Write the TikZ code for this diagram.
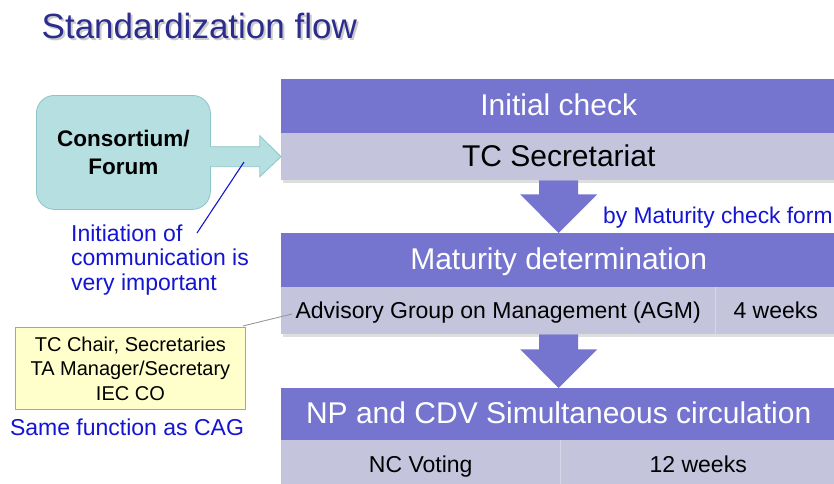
\documentclass[tikz,border=0pt]{standalone}
\usepackage{fontspec}
\setmainfont{Liberation Sans}
\usetikzlibrary{calc}
\definecolor{hdrfill}{RGB}{117,117,207}
\definecolor{rowfill}{RGB}{196,196,221}
\definecolor{tealfill}{RGB}{181,223,224}
\definecolor{tealline}{RGB}{140,198,200}
\definecolor{notefill}{RGB}{255,255,204}
\definecolor{noteline}{RGB}{165,165,165}
\definecolor{titleblue}{RGB}{44,44,140}
\definecolor{remarkblue}{RGB}{20,20,210}
\definecolor{divline}{RGB}{214,214,232}
\begin{document}
\begin{tikzpicture}[x=1pt,y=-1pt,
  hdr/.style={fill=hdrfill,text=white,inner sep=0pt,anchor=north west,
    minimum width=555pt,minimum height=54pt,text height=21.6pt,text depth=4pt,
    font=\fontsize{30}{36}\selectfont},
  cell/.style={fill=rowfill,text=black,inner sep=0pt,anchor=north west,
    minimum height=47pt,text height=16.5pt,text depth=0pt,
    font=\fontsize{23}{28}\selectfont},
  flow/.style={fill=hdrfill},
  remark/.style={text=remarkblue,inner sep=0pt,font=\fontsize{23}{24.5}\selectfont},
  shade/.style={fill=black!13},
  divider/.style={draw=divline,line width=1pt},
]
\useasboundingbox (0,0) rectangle (834,483);
\clip (0,0) rectangle (834,483);

% title with its soft shadow
\node[anchor=base west,inner sep=0pt,text=black!35,opacity=0.6,font=\fontsize{35}{40}\selectfont] (titleshadow) at (43.5,40) {Standardization flow};
\node[anchor=base west,inner sep=0pt,text=titleblue,font=\fontsize{35}{40}\selectfont] (title) at (41.5,38) {Standardization flow};

% step 1: initial check
\fill[shade] (283,180) rectangle (836,183);
\node[hdr] (ic) at (281,79) {Initial check};
\node[cell,minimum width=555pt,text height=21.6pt,text depth=2pt,font=\fontsize{30}{36}\selectfont] (sec) at (281,133) {TC Secretariat};

% step 2: maturity determination
\fill[shade] (283,334) rectangle (836,337);
\node[hdr] (mat) at (281,233) {Maturity determination};
\node[cell,minimum width=434pt] (agm) at (281,287) {Advisory Group on Management (AGM)};
\node[cell,minimum width=121pt] (agmtime) at (715,287) {4 weeks};
\draw[divider] (agm.north east) -- (agm.south east);

% step 3: simultaneous circulation
\node[hdr,minimum height=52pt] (np) at (281,388) {NP and CDV Simultaneous circulation};
\node[cell,minimum width=279pt,minimum height=48pt] (vote) at (281,440) {NC Voting};
\node[cell,minimum width=276pt,minimum height=48pt] (votetime) at (560,440) {12 weeks};
\draw[divider] (vote.north east) -- (vote.south east);

% block arrows between the steps
\coordinate (d1) at (sec.south);
\fill[flow] ($(d1)+(-19.5,0)$) -- ($(d1)+(19.5,0)$) -- ($(d1)+(19.5,14)$) -- ($(d1)+(38.5,14)$)
  -- (mat.north) -- ($(d1)+(-38.5,14)$) -- ($(d1)+(-19.5,14)$) -- cycle;
\coordinate (d2) at (mat.center |- agm.south);
\fill[flow] ($(d2)+(-19.5,0)$) -- ($(d2)+(19.5,0)$) -- ($(d2)+(19.5,15)$) -- ($(d2)+(38.5,15)$)
  -- (np.north) -- ($(d2)+(-38.5,15)$) -- ($(d2)+(-19.5,15)$) -- cycle;
\node[remark,anchor=base west,font=\fontsize{22.8}{26}\selectfont] (form) at (603,223) {by Maturity check form};

% consortium / forum and its arrow into the secretariat
\node[draw=tealline,fill=tealfill,line width=0.8pt,rounded corners=18pt,anchor=north west,
  minimum width=174pt,minimum height=114pt,align=center,
  font=\bfseries\fontsize{22.5}{28}\selectfont] (cf) at (36,95) {Consortium/\\Forum};
\coordinate (a0) at (cf.east |- sec.west);
\filldraw[fill=tealfill,draw=tealline,line width=0.8pt]
  ($(a0)+(-1,-10)$) -- ($(a0)+(49,-10)$) -- ($(a0)+(49,-21)$) -- (sec.west)
  -- ($(a0)+(49,20)$) -- ($(a0)+(49,10)$) -- ($(a0)+(-1,10)$);
\fill[tealfill] ($(a0)+(-1.5,-9.6)$) rectangle ($(a0)+(1,9.6)$);

% remark on the start of the process (anchored at the baseline of its last line)
\node[remark,anchor=base west,align=left] (init) at (71,290)
  {Initiation of\\communication is\\very important};
\coordinate (initend) at (197,233);
\coordinate (initarrow) at (244,162);
\draw[remarkblue,line width=1.1pt] (initend) -- (initarrow);

% members of the advisory group
\node[draw=noteline,fill=notefill,line width=0.8pt,anchor=north west,minimum width=230pt,
  minimum height=82pt,align=center,inner sep=0pt,
  font=\fontsize{20}{24.5}\selectfont] (note) at (15,327)
  {TC Chair, Secretaries\\TA Manager/Secretary\\IEC CO};
\coordinate (agmleft) at (292,314);
\draw[black!40,line width=0.9pt] ($(note.north east)+(-3,-1)$) -- (agmleft);
\node[remark,anchor=base] (cag) at (127,435) {Same function as CAG};
\end{tikzpicture}
\end{document}
